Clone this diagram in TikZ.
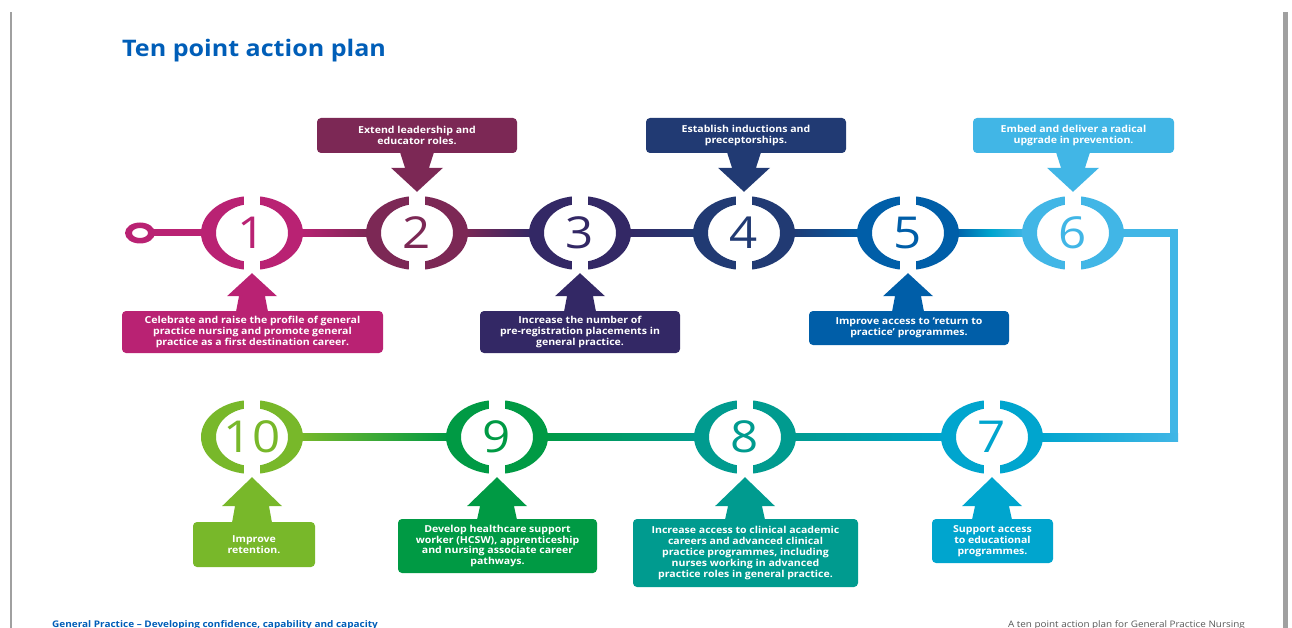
\documentclass[tikz,border=0pt]{standalone}
\usepackage{fontspec}
\setmainfont{Open Sans}[FakeStretch=1.1]
\newfontfamily\digitfont{Open Sans}[FakeStretch=1.12]
\usetikzlibrary{calc}
\definecolor{nhsblue}{RGB}{0,94,184}
\definecolor{colA}{RGB}{185,34,115}
\definecolor{colB}{RGB}{124,40,85}
\definecolor{colC}{RGB}{51,40,101}
\definecolor{colD}{RGB}{33,58,115}
\definecolor{colE}{RGB}{0,94,168}
\definecolor{colF}{RGB}{65,182,230}
\definecolor{colG}{RGB}{0,165,206}
\definecolor{colH}{RGB}{0,155,143}
\definecolor{colI}{RGB}{0,154,68}
\definecolor{colJ}{RGB}{120,184,42}
\definecolor{frame}{RGB}{160,160,160}
\tikzset{
  num/.style={minimum width=102pt, minimum height=74pt, inner sep=0pt, font=\digitfont\fontsize{44}{44}\selectfont},
  infobox/.style={rounded corners=4pt, text=white, font=\bfseries\fontsize{9.6}{10.8}\selectfont, align=center, inner sep=0pt},
  conn/.style={line width=8pt, line join=miter}
}
% ring around a number node
\newcommand\drawring[2]{%
  \fill[#2,even odd rule] (#1.center) ellipse [x radius=51pt,y radius=37pt] (#1.center) ellipse [x radius=36pt,y radius=29pt];
  \fill[white] ($(#1.center)+(-8,-26)$) rectangle ($(#1.center)+(8,-40)$);
  \fill[white] ($(#1.center)+(-8,26)$) rectangle ($(#1.center)+(8,40)$);
}
% arrow from a box below up to a ring: box, circle, colour, shaft hw at box, shaft hw at head, head hw, head length
\newcommand\uparr[7]{%
  \coordinate (T) at ($(#2.south)+(0,3)$);
  \coordinate (B) at (#2.south |- #1.north);
  \fill[#3] ($(B)+(-#4,1)$) -- ($(T)+(-#5,#7)$) -- ($(T)+(-#6,#7)$) -- (T) -- ($(T)+(#6,#7)$) -- ($(T)+(#5,#7)$) -- ($(B)+(#4,1)$) -- cycle;
}
\newcommand\downarr[7]{%
  \coordinate (T) at ($(#2.north)+(0,-4)$);
  \coordinate (B) at (#2.north |- #1.south);
  \fill[#3] ($(B)+(-#4,-1)$) -- ($(T)+(-#5,-#7)$) -- ($(T)+(-#6,-#7)$) -- (T) -- ($(T)+(#6,-#7)$) -- ($(T)+(#5,-#7)$) -- ($(B)+(#4,-1)$) -- cycle;
}
\begin{document}
\begin{tikzpicture}[x=1pt,y=-1pt]
\fill[white] (0,0) rectangle (1292,628);
\useasboundingbox (0,0) rectangle (1292,628);
% page frame
\fill[frame] (10,12) rectangle (12,628);
\fill[frame] (1283,12) rectangle (1288,628);
% title
\node[anchor=base west, inner sep=0pt, text=nhsblue, font=\bfseries\fontsize{22.8}{26}\selectfont] (title) at (122,57) {Ten point action plan};
% number nodes
\node[num, text=colA] (c1) at (252,233) {1};
\node[num, text=colB] (c2) at (417,233) {2};
\node[num, text=colC] (c3) at (580,233) {3};
\node[num, text=colD] (c4) at (744,233) {4};
\node[num, text=colE] (c5) at (908,233) {5};
\node[num, text=colF] (c6) at (1073,233) {6};
\node[num, text=colG] (c7) at (992,437) {7};
\node[num, text=colH] (c8) at (745,437) {8};
\node[num, text=colI] (c9) at (497,437) {9};
\node[num, text=colJ] (c10) at (252,437) {10};
% start marker
\node[minimum width=30pt, minimum height=21pt, inner sep=0pt] (s0) at (140,233) {};
\fill[colA,even odd rule] (s0.center) ellipse [x radius=15pt,y radius=10.5pt] (s0.center) ellipse [x radius=8pt,y radius=5pt];
% connectors
\fill[colA] ($(s0.east)+(-2,-3.5)$) rectangle ($(c1.west)+(4,3.5)$);
\path[left color=colA, right color=colB] ($(c1.east)+(-4,-3.5)$) rectangle ($(c2.west)+(4,3.5)$);
\path[left color=colB, right color=colC] ($(c2.east)+(-4,-3.5)$) rectangle ($(c3.west)+(4,3.5)$);
\path[left color=colC, right color=colD] ($(c3.east)+(-4,-3.5)$) rectangle ($(c4.west)+(4,3.5)$);
\path[left color=colD, right color=colE] ($(c4.east)+(-4,-3.5)$) rectangle ($(c5.west)+(4,3.5)$);
\path[left color=colE, right color=colF, middle color=colG] ($(c5.east)+(-4,-3.5)$) rectangle ($(c6.west)+(4,3.5)$);
\coordinate (rc) at (1174,437);
\draw[conn, colF] ($(c6.east)+(-4,0)$) -| (rc) -- ($(c7.east)+(-4,0)$);
\path[left color=colG, right color=colF] ($(c7.east)+(-4,-4)$) rectangle ($(rc)+(4,4)$);
\path[left color=colH, right color=colG] ($(c8.east)+(-4,-3.5)$) rectangle ($(c7.west)+(4,3.5)$);
\path[left color=colI, right color=colH] ($(c9.east)+(-4,-3.5)$) rectangle ($(c8.west)+(4,3.5)$);
\path[left color=colJ, right color=colI] ($(c10.east)+(-4,-3.5)$) rectangle ($(c9.west)+(4,3.5)$);
% rings
\drawring{c1}{colA}
\drawring{c2}{colB}
\drawring{c3}{colC}
\drawring{c4}{colD}
\drawring{c5}{colE}
\drawring{c6}{colF}
\drawring{c7}{colG}
\drawring{c8}{colH}
\drawring{c9}{colI}
\drawring{c10}{colJ}
% boxes
\node[infobox, fill=colA, minimum width=261pt, minimum height=42pt] (b1) at (252.5,332) {Celebrate and raise the profile of general\\practice nursing and promote general\\practice as a first destination career.};
\node[infobox, fill=colB, minimum width=200pt, minimum height=35pt] (b2) at (417,135.5) {Extend leadership and\\educator roles.};
\node[infobox, fill=colC, minimum width=200pt, minimum height=42pt] (b3) at (580,332) {Increase the number of\\pre-registration placements in\\general practice.};
\node[infobox, fill=colD, minimum width=200pt, minimum height=35pt] (b4) at (746,135.5) {Establish inductions and\\preceptorships.};
\node[infobox, fill=colE, minimum width=200pt, minimum height=34pt] (b5) at (909,328) {Improve access to `return to\\practice' programmes.};
\node[infobox, fill=colF, minimum width=201pt, minimum height=35pt] (b6) at (1073.5,135.5) {Embed and deliver a radical\\upgrade in prevention.};
\node[infobox, fill=colG, minimum width=121pt, minimum height=44pt] (b7) at (992.5,541) {Support access\\to educational\\programmes.};
\node[infobox, fill=colH, minimum width=225pt, minimum height=68pt] (b8) at (745.5,553) {Increase access to clinical academic\\careers and advanced clinical\\practice programmes, including\\nurses working in advanced\\practice roles in general practice.};
\node[infobox, fill=colI, minimum width=199pt, minimum height=54pt] (b9) at (497.5,546) {Develop healthcare support\\worker (HCSW), apprenticeship\\and nursing associate career\\pathways.};
\node[infobox, fill=colJ, minimum width=122pt, minimum height=45pt] (b10) at (254,544.5) {Improve\\retention.};
% arrows
\uparr{b1}{c1}{colA}{16}{13}{25}{23}
\downarr{b2}{c2}{colB}{17}{12}{26}{24}
\uparr{b3}{c3}{colC}{16}{13}{25}{23}
\downarr{b4}{c4}{colD}{17}{12}{26}{24}
\uparr{b5}{c5}{colE}{16}{13}{25}{23}
\downarr{b6}{c6}{colF}{17}{12}{26}{24}
\uparr{b7}{c7}{colG}{20}{17}{30}{29}
\uparr{b8}{c8}{colH}{20}{17}{30}{29}
\uparr{b9}{c9}{colI}{20}{17}{30}{29}
\uparr{b10}{c10}{colJ}{20}{17}{30}{29}
% footer
\node[anchor=base west, inner sep=0pt, text=nhsblue, font=\bfseries\fontsize{9.1}{10}\selectfont] (foot1) at (52,627) {General Practice -- Developing confidence, capability and capacity};
\node[anchor=base east, inner sep=0pt, text=black!65, font=\fontsize{9}{10}\selectfont] (foot2) at (1245,627) {A ten point action plan for General Practice Nursing};
\end{tikzpicture}
\end{document}
